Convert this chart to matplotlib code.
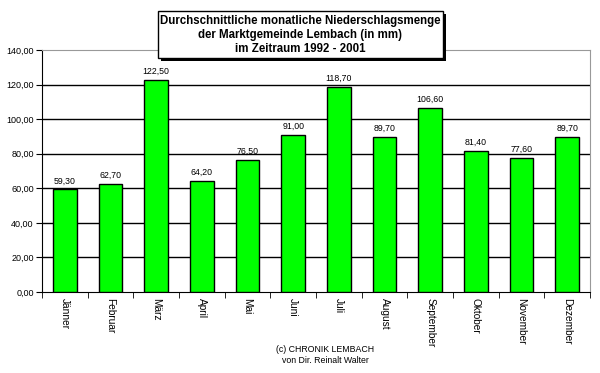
import matplotlib
matplotlib.use("Agg")
import matplotlib.pyplot as plt
from matplotlib.patches import Rectangle
import numpy as np

plt.rcParams['font.family'] = ['Liberation Sans', 'DejaVu Sans']

monate = ["Jänner", "Februar", "März", "April", "Mai", "Juni", "Juli",
          "August", "September", "Oktober", "November", "Dezember"]
niederschlag = [59.3, 62.7, 122.5, 64.2, 76.5, 91.0, 118.7,
                89.7, 106.6, 81.4, 77.6, 89.7]
y_ticks = [0, 20, 40, 60, 80, 100, 120, 140]
titel = ("Durchschnittliche monatliche Niederschlagsmenge\n"
         "der Marktgemeinde Lembach (in mm)\n"
         "im Zeitraum 1992 - 2001")

fig = plt.figure(figsize=(6, 3.73), dpi=100)
ax = fig.add_axes([42/600, (373-292)/373, 548/600, 242/373])

x = np.arange(len(monate))
ax.bar(x, niederschlag, width=0.52, color="#00ff00", edgecolor="black", linewidth=1, zorder=3)

for xi, v in zip(x, niederschlag):
    ax.annotate(("%.2f" % v).replace(".", ","), (xi, v), xytext=(0, 3),
                textcoords="offset points", ha="center", va="bottom", fontsize=6.3)

ax.set_xlim(-0.5, len(monate) - 0.5)
ax.set_ylim(0, 140)
ax.set_yticks(y_ticks)
ax.set_yticklabels([("%.2f" % t).replace(".", ",") for t in y_ticks], fontsize=6.5)
for t in y_ticks[1:-1]:
    ax.axhline(t, color="black", lw=1, zorder=1)

ax.set_xticks(x)
ax.set_xticklabels(monate, rotation=-90, fontsize=7.3, va="top", ha="center")
ax.set_xticks(np.arange(len(monate) + 1) - 0.5, minor=True)
ax.tick_params(axis="x", which="major", length=0, pad=4)
ax.tick_params(axis="x", which="minor", length=4, direction="out", color="black")
ax.tick_params(axis="y", length=4, direction="out", pad=2)

ax.spines["left"].set_color("black")
ax.spines["bottom"].set_color("black")
ax.spines["top"].set_color("#999999")
ax.spines["right"].set_color("#999999")

# Titelbox mit Schatten
fig.patches.append(Rectangle((161/600, 1 - 61/373), 285/600, 47/373,
                             transform=fig.transFigure, facecolor="black", zorder=5))
fig.patches.append(Rectangle((158/600, 1 - 58/373), 285/600, 47/373,
                             transform=fig.transFigure, facecolor="white",
                             edgecolor="black", lw=1, zorder=6))
fig.text(300.5/600, 1 - 35/373, titel, ha="center", va="center", fontsize=8.3,
         fontweight="bold", linespacing=1.25, zorder=7)

fig.text(325/600, 1 - 355/373, "(c) CHRONIK LEMBACH\nvon Dir. Reinalt Walter",
         ha="center", va="center", fontsize=6.3, linespacing=1.25)

fig.savefig("out.png", dpi=100)
